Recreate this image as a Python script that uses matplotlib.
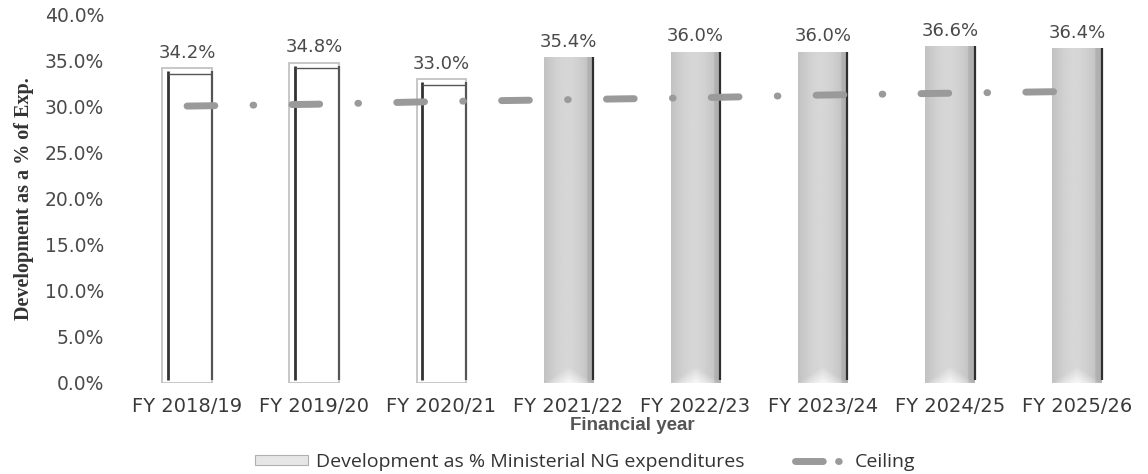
import matplotlib

matplotlib.use("Agg")
import matplotlib.pyplot as plt
import numpy as np
from matplotlib.lines import Line2D
from matplotlib.patches import Patch

years = [
    "FY 2018/19", "FY 2019/20", "FY 2020/21", "FY 2021/22",
    "FY 2022/23", "FY 2023/24", "FY 2024/25", "FY 2025/26",
]
development = [34.2, 34.8, 33.0, 35.4, 36.0, 36.0, 36.6, 36.4]
ceiling = [30.1, 30.3, 30.6, 30.8, 31.0, 31.3, 31.5, 31.7]
y_ticks = [0, 5, 10, 15, 20, 25, 30, 35, 40]

OUTLINED = 3  # first years drawn as hollow bars
TEXT = "#4a4a4a"
LINE_GREY = "#9a9a9a"

plt.rcParams["lines.scale_dashes"] = False

fig = plt.figure(figsize=(11.48, 4.74), dpi=100)
ax = fig.add_axes([123.5 / 1148, 91 / 474, 1017 / 1148, 368 / 474])

x = np.arange(len(years))
bars = ax.bar(x, development, width=0.39, color="white", edgecolor="none", zorder=2)


def shaded_column(ncols=60, nrows=300):
    # horizontal profile: grey sides, lighter centre, bevelled bottom
    u = np.linspace(0, 1, ncols)
    prof = 0.76 + 0.08 * np.sin(np.pi * np.clip(u * 1.1, 0, 1))
    prof[u > 0.88] -= 0.07
    img = np.tile(prof, (nrows, 1))
    v = np.linspace(0, 1, nrows)[:, None]  # 0 at bottom
    peak = 0.05 * (1 - np.abs(u - 0.5) * 2)[None, :]
    bevel = np.clip((peak - v) / 0.05, 0, 1)
    img = img + (0.97 - img) * bevel
    return img


shade = shaded_column()
for i, b in enumerate(bars):
    left, w, h = b.get_x(), b.get_width(), b.get_height()
    if i < OUTLINED:
        b.set_edgecolor("#bdbdbd")
        b.set_linewidth(1.2)
        ax.vlines([left + w * 0.12, left + w], 0.3, h - 0.3,
                  colors=["#333333", "#555555"], linewidth=[2.0, 1.6], zorder=3)
        ax.hlines(h - 0.6, left + w * 0.12, left + w, colors="#555555",
                  linewidth=1.0, zorder=3)
    else:
        im = ax.imshow(shade, cmap="gray", vmin=0, vmax=1, origin="lower",
                       extent=[left, left + w, 0, h], aspect="auto",
                       interpolation="bilinear", zorder=2)
        im.set_clip_path(b)
        ax.vlines(left + w, 0.3, h, colors="#2f2f2f", linewidth=1.6, zorder=3)
    ax.text(b.get_x() + w / 2, h + 0.7, f"{development[i]:.1f}%", ha="center",
            va="bottom", fontsize=13, color=TEXT, family="DejaVu Sans")

ax.plot(x, ceiling, color=LINE_GREY, linewidth=5, dash_capstyle="round",
        linestyle=(0, (20, 27.5, 0.5, 27.5)), zorder=4)

ax.set_xlim(-0.5, len(years) - 0.5)
ax.set_ylim(0, 40)
ax.set_yticks(y_ticks)
ax.set_yticklabels([f"{t:.1f}%" for t in y_ticks])
ax.set_xticks(x)
ax.set_xticklabels(years)
ax.tick_params(length=0)
ax.tick_params(axis="y", pad=14, labelsize=13.5, labelcolor=TEXT)
ax.tick_params(axis="x", pad=10, labelsize=14, labelcolor="#3a3a3a")
for s in ax.spines.values():
    s.set_visible(False)

ax.set_ylabel("Development as a % of Exp.", family="Liberation Serif",
              fontsize=14.5, fontweight="bold", color="#333333", labelpad=8)
ax.set_xlabel("Financial year", family="Liberation Sans", fontsize=13.5,
              fontweight="bold", color="#555555", labelpad=1)

handles = [
    Patch(facecolor="#e6e6e6", edgecolor="#b0b0b0", linewidth=0.8),
    Line2D([0], [0], color=LINE_GREY, linewidth=5, dash_capstyle="round",
           linestyle=(0, (20, 11, 0.5, 60))),
]
fig.legend(handles, ["Development as % Ministerial NG expenditures", "Ceiling"],
           loc="center", bbox_to_anchor=(0.5 + 0.01, 12 / 474), ncol=2,
           frameon=False, handlelength=2.7, handleheight=0.45,
           columnspacing=2.6, handletextpad=0.4,
           prop={"family": "Open Sans", "size": 14},
           labelcolor="#333333")

fig.savefig("out.png", dpi=100, facecolor="white")
